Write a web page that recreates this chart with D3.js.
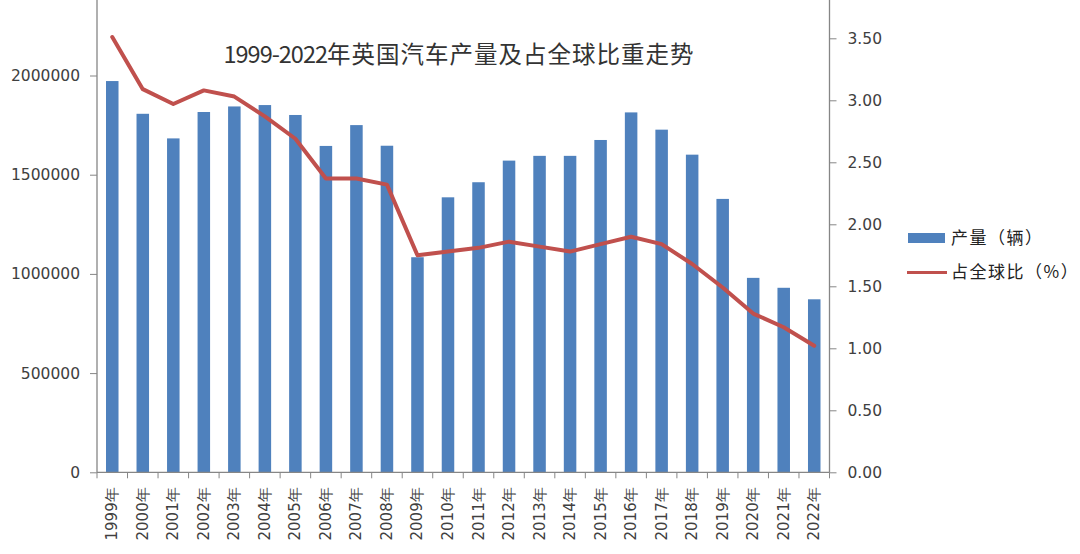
<!DOCTYPE html>
<html><head><meta charset="utf-8">
<script src="https://cdn.jsdelivr.net/npm/d3@7"></script>
<style>
html,body{margin:0;padding:0;background:#fff;}
svg{display:block;}
</style></head>
<body>
<svg id="chart" width="1080" height="554"></svg>
<script>
const years = ["1999","2000","2001","2002","2003","2004","2005","2006","2007","2008","2009","2010","2011","2012","2013","2014","2015","2016","2017","2018","2019","2020","2021","2022"];
const production = [1972000,1807000,1683000,1816000,1844000,1851000,1801000,1645000,1750000,1646000,1084000,1386000,1462000,1571000,1595000,1595000,1675000,1814000,1727000,1601000,1378000,980000,930000,872000];
const share = [3.51,3.09,2.97,3.08,3.03,2.87,2.69,2.37,2.37,2.32,1.75,1.78,1.81,1.86,1.82,1.78,1.84,1.90,1.84,1.68,1.49,1.28,1.17,1.02];
const leftTicks = [0,500000,1000000,1500000,2000000];
const rightTicks = [0,0.5,1,1.5,2,2.5,3,3.5];
const title = "1999-2022年英国汽车产量及占全球比重走势";
const seriesNames = ["产量（辆）","占全球比（%）"];

const svg = d3.select("#chart");
const L = 97, R = 829.5, B = 472.3, T = 0;
const BLUE = "#4F81BD", RED = "#C0504D", AX = "#868686", TXT = "#404040";

const x = d3.scaleBand().domain(years).range([L, R]).paddingInner(0.59).paddingOuter(0.295);
const xb = d3.scaleBand().domain(years).range([L, R]);
const yL = d3.scaleLinear().domain([0, 2000000]).range([B, 75.5]);
const yR = d3.scaleLinear().domain([0, 3.5]).range([B, 38.3]);

// bars
svg.append("g").selectAll("rect").data(production).join("rect")
  .attr("x", (d,i) => x(years[i]))
  .attr("width", x.bandwidth())
  .attr("y", d => yL(d))
  .attr("height", d => B - yL(d))
  .attr("fill", BLUE);

// axes
const font = "'DejaVu Sans', Verdana, sans-serif";
const gL = svg.append("g").attr("transform", `translate(${L},0)`)
  .call(d3.axisLeft(yL).tickValues(leftTicks).tickSize(7).tickPadding(10).tickFormat(d3.format("d")));
const gR = svg.append("g").attr("transform", `translate(${R},0)`)
  .call(d3.axisRight(yR).tickValues(rightTicks).tickSize(7).tickPadding(11).tickFormat(d3.format(".2f")));
[gL, gR].forEach(g => {
  g.select(".domain").remove();
  g.selectAll("line").attr("stroke", AX);
  g.selectAll("text").attr("fill", TXT).style("font-family", font).style("font-size", "15.5px");
});
svg.append("line").attr("x1", L).attr("x2", L).attr("y1", T).attr("y2", B).attr("stroke", AX).attr("stroke-width", 1.3);
svg.append("line").attr("x1", R).attr("x2", R).attr("y1", T).attr("y2", B).attr("stroke", AX).attr("stroke-width", 1.3);

// x axis
const gx = svg.append("g").attr("transform", `translate(0,${B})`);
gx.append("line").attr("x1", L).attr("x2", R).attr("stroke", AX).attr("stroke-width", 1.3);
const bounds = years.map(y => xb(y)).concat([R]);
gx.selectAll("line.tk").data(bounds).join("line").attr("class","tk")
  .attr("x1", d => d).attr("x2", d => d).attr("y1", 0).attr("y2", 6).attr("stroke", AX);
gx.selectAll("text").data(years).join("text")
  .attr("transform", d => `translate(${xb(d) + xb.bandwidth()/2 + 5},15) rotate(-90)`)
  .attr("text-anchor", "end")
  .attr("fill", TXT).style("font-family", font).style("font-size", "15px")
  .text(d => d + "年");

// line
const line = d3.line().x((d,i) => xb(years[i]) + xb.bandwidth()/2).y(d => yR(d));
svg.append("path").datum(share).attr("d", line).attr("fill", "none")
  .attr("stroke", RED).attr("stroke-width", 4).attr("stroke-linejoin", "round").attr("stroke-linecap","round");

// title
const t = svg.append("text").attr("x", 459).attr("y", 63).attr("text-anchor", "middle")
  .attr("fill", "#333").style("font-family", "'Noto Sans CJK SC', sans-serif").style("font-size", "23.5px");
t.append("tspan").style("letter-spacing", "-1px").text(title.slice(0, 9));
t.append("tspan").style("letter-spacing", "1px").text(title.slice(9));

// legend
const cjk = "'Noto Sans CJK SC', sans-serif";
const lg = svg.append("g");
lg.append("rect").attr("x", 908).attr("y", 233).attr("width", 37).attr("height", 10).attr("fill", BLUE);
lg.append("text").attr("x", 951).attr("y", 238).attr("dy", "0.35em").attr("fill", "#222")
  .style("font-family", cjk).style("font-size", "17px").style("letter-spacing", "1.5px").text(seriesNames[0]);
lg.append("line").attr("x1", 907).attr("x2", 947).attr("y1", 272.5).attr("y2", 272.5).attr("stroke", RED).attr("stroke-width", 3);
lg.append("text").attr("x", 951).attr("y", 272).attr("dy", "0.35em").attr("fill", "#222")
  .style("font-family", cjk).style("font-size", "17px").style("letter-spacing", "1.5px").text(seriesNames[1]);
</script>
</body></html>
